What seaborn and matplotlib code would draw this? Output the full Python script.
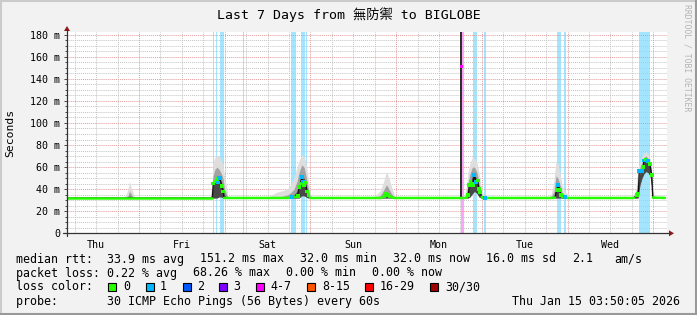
import math
import matplotlib
matplotlib.use("Agg")
import matplotlib.pyplot as plt
import seaborn as sns
from matplotlib.patches import Rectangle, Polygon
from matplotlib.lines import Line2D

# ---------------- data (x = hours since Thu Jan 8 03:50:05, y = milliseconds) ----------------
START_TIME_OF_DAY_H = 3 + 50 / 60 + 5 / 3600
SPAN_H = 168
day_labels = ["Thu", "Fri", "Sat", "Sun", "Mon", "Tue", "Wed"]
y_ticks = [0, 20, 40, 60, 80, 100, 120, 140, 160, 180]
y_tick_labels = ["0", "20 m", "40 m", "60 m", "80 m", "100 m", "120 m", "140 m", "160 m", "180 m"]

# median rtt (ms) and loss class at each key point
med_h = [0, 40.68, 40.96, 41.44, 41.92, 42.28, 42.84, 43.32, 43.68, 43.96,
         61.88, 62.92, 63.84, 64.6, 64.96, 65.38, 65.72, 66.0, 66.36, 66.64, 67.2, 67.62, 68.04,
         87.92, 88.4, 88.9, 89.32, 89.96, 90.44, 90.92, 91.28,
         111.44, 112.0, 112.36, 112.64, 112.98, 113.32, 113.68, 114.04, 114.52, 114.99, 115.36,
         115.64, 116.12, 116.48, 117.04,
         136.08, 136.64, 137.12, 137.56, 138.04, 138.32, 138.68, 139.44, 140.0,
         158.76, 159.52, 159.96, 160.24, 160.92, 161.28, 161.56, 162.12, 162.76, 163.24, 163.72,
         164.0, 167.44]
med_ms = [32, 32, 45, 47, 49, 46, 50, 43, 38, 32,
          32, 32.7, 33, 34, 42, 45, 51, 47, 44, 46, 38, 35, 32,
          32, 33, 34, 36, 34.5, 33.5, 33, 32,
          32, 33, 34.5, 43.6, 47, 45, 44, 52.7, 46.7, 48, 40,
          37.5, 33, 32, 32,
          32, 32.4, 39, 43.6, 39, 34.5, 32.7, 33, 32,
          32, 35, 36, 56.6, 56.6, 60, 66, 67, 65.7, 62.7, 52.7,
          32.4, 32]
med_loss = ["0", "0", "0", "0", "0", "1", "1", "0", "0", "0",
            "0", "1", "0", "0", "0", "0", "1", "1", "0", "0", "0", "0", "0",
            "0", "0", "0", "0", "0", "0", "0", "0",
            "0", "0", "0", "0", "0", "0", "0", "1", "1", "0", "0",
            "0", "0", "0", "1",
            "0", "0", "0", "1", "0", "0", "0", "1", "0",
            "0", "0", "0", "1", "1", "0", "1", "0", "1", "0", "0",
            "0", "0"]

# the Monday outage spike
spike_h = [109.95, 110.65]
spike_lo = [32, 32]
spike_hi = [183, 183]
spike_med_h = [110.45]
spike_med_ms = [151.2]
spike_med_loss = ["4-7"]

# smoke (ping spread) envelopes
smoke_h = [15.96, 16.52, 17.08, 17.5, 17.92, 18.48, 19.04,
           40.04, 40.6, 40.88, 41.44, 42.0, 42.56, 43.12, 43.68, 44.1, 44.72, 45.08,
           56.28, 57.4, 58.52, 59.64, 60.76, 61.88, 62.72, 63.56, 64.4, 64.96, 65.72, 66.36,
           66.92, 67.48, 68.04, 68.6,
           85.4, 86.52, 87.64, 88.48, 89.46, 90.16, 90.86, 91.56, 92.12,
           111.16, 111.72, 112.28, 112.84, 113.54, 114.1, 114.8, 115.36, 115.92, 116.48, 117.04,
           134.68, 135.52, 136.36, 136.92, 137.48, 138.04, 138.6, 139.44, 140.28, 140.84,
           157.64, 158.48, 159.32, 159.88, 160.44, 161.0, 161.56, 162.12, 162.68, 163.24,
           163.66, 164.08, 164.64]
smoke_lo = [32, 32, 32, 32, 32, 32, 32,
            32, 32, 32, 32, 32, 33, 33, 32, 32, 32, 32,
            32, 32, 32, 32, 32, 32, 32, 32, 32, 32, 34, 34,
            33, 32, 32, 32,
            32, 32, 32, 32, 32, 32, 32, 32, 32,
            32, 32, 32, 33, 36, 38, 36, 33, 32, 32, 32,
            32, 32, 32, 32, 32, 32, 32, 32, 32, 32,
            32, 32, 32, 32, 44, 50, 54, 56, 55, 52,
            44, 32, 32]
smoke_outer = [32, 35, 40, 47, 42, 37, 32,
               32, 45, 64, 69, 71, 70, 67, 62, 52, 42, 33,
               32, 35, 37, 38, 39, 41, 45, 50, 60, 66, 71, 70,
               64, 52, 38, 32,
               32, 35, 38, 45, 56, 50, 42, 36, 32,
               32, 40, 55, 64, 69, 68, 64, 55, 44, 36, 32,
               32, 35, 48, 66, 63, 55, 44, 38, 35, 32,
               32, 34, 40, 60, 64, 70, 73, 74, 72, 68,
               62, 40, 32]
smoke_mid = [32, 33, 34, 38, 36, 33, 32,
             32, 36, 52, 58, 60, 58, 55, 50, 40, 35, 32,
             32, 32, 33, 33, 34, 35, 37, 40, 47, 55, 62, 60,
             52, 42, 34, 32,
             32, 33, 34, 38, 44, 40, 36, 33, 32,
             32, 35, 45, 54, 60, 60, 55, 46, 37, 33, 32,
             32, 33, 38, 52, 50, 44, 37, 34, 33, 32,
             32, 33, 36, 50, 60, 64, 69, 70, 68, 64,
             56, 35, 32]
smoke_inner = [32, 32, 33, 34, 33, 32, 32,
               32, 33, 45, 50, 52, 51, 47, 42, 35, 32, 32,
               32, 32, 32, 32, 32, 33, 34, 35, 38, 45, 52, 50,
               44, 37, 32, 32,
               32, 32, 32, 34, 37, 35, 33, 32, 32,
               32, 33, 38, 46, 52, 53, 49, 40, 34, 32, 32,
               32, 32, 34, 42, 45, 39, 33, 32, 32, 32,
               32, 32, 34, 42, 57, 60, 66, 67, 65, 61,
               52, 33, 32]

# full-height loss bars
band_start = [40.88, 41.72, 42.84, 49.28, 62.72, 65.52, 66.92, 110.32, 113.68, 116.76, 137.2, 139.16, 160.16]
band_end = [41.3, 42.14, 43.96, 49.56, 64.12, 66.64, 67.2, 111.16, 114.8, 117.32, 138.32, 139.72, 163.24]
band_loss = ["1", "1", "1", "1", "1", "1", "1", "4-7", "1", "1", "1", "1", "1"]

loss_classes = ["0", "1", "2", "3", "4-7", "8-15", "16-29", "30/30"]
loss_colors = ["#26ff00", "#00b8ff", "#0059ff", "#7e00ff", "#ff00ff", "#ff5500", "#ff0000", "#a10000"]

stat_rows = [
    [("median rtt:  33.9 ms avg", 16), ("151.2 ms max", 200), ("32.0 ms min", 300),
     ("32.0 ms now", 393), ("16.0 ms sd", 486), ("2.1", 572), ("am/s", 614)],
    [("packet loss: 0.22 % avg", 16), ("68.26 % max", 193), ("0.00 % min", 286),
     ("0.00 % now", 372)],
    [("loss color:", 16)],
    [("probe:       30 ICMP Echo Pings (56 Bytes) every 60s", 16)],
]
row_y = [259, 273, 287, 301.5]
date_text = "Thu Jan 15 03:50:05 2026"
legend_box_x = [108, 146, 183, 219, 256, 307, 365, 430]
legend_label_x = [123, 160, 197, 233, 270, 322, 380, 445]
title = "Last 7 Days from 無防禦 to BIGLOBE"

# ---------------- style ----------------
W, H = 697, 315
sns.set_theme(style="white")
MONO = ["DejaVu Sans Mono", "Noto Sans CJK TC"]
plt.rcParams["font.family"] = MONO
plt.rcParams["text.color"] = "black"

BG = "#f2f2f2"
fig = plt.figure(figsize=(W / 100, H / 100), dpi=100, facecolor=BG)

X0, X1 = 67, 667
Y0 = 233.3
PX_PER_MS = 198.6 / 180
YMAX = 182
ax = fig.add_axes([X0 / W, (H - Y0) / H, (X1 - X0) / W, YMAX * PX_PER_MS / H], facecolor="white")
ax.set_xlim(0, SPAN_H)
ax.set_ylim(0, YMAX)
for s in ax.spines.values():
    s.set_visible(False)

col = dict(zip(loss_classes, loss_colors))

# loss bars
for s, e, l in zip(band_start, band_end, band_loss):
    ax.axvspan(s, e, color=col[l], alpha=0.36, lw=0, zorder=1)

# grid
first_mid = 24 - START_TIME_OF_DAY_H
grid6 = [first_mid - 18 + 6 * k for k in range(30) if 0 < first_mid - 18 + 6 * k < SPAN_H]
midnights = [g for g in grid6 if abs(((g - first_mid) / 24) - round((g - first_mid) / 24)) < 1e-6]
minor6 = [g for g in grid6 if g not in midnights]
dots = (0, (1, 1))
ax.vlines(minor6, 0, YMAX, colors="#c4c4c4", lw=0.7, linestyles=dots, zorder=1.5)
ax.vlines(midnights, 0, YMAX, colors="#e39a9a", lw=0.7, linestyles=dots, zorder=1.6)
y_minor = [v for v in range(5, YMAX, 5) if v % 20]
ax.hlines(y_minor, 0, SPAN_H, colors="#c4c4c4", lw=0.7, linestyles=dots, zorder=1.5)
ax.hlines([v for v in y_ticks if v > 0], 0, SPAN_H, colors="#e39a9a", lw=0.7, linestyles=dots, zorder=1.6)

# smoke
ax.fill_between(smoke_h, smoke_lo, smoke_outer, color="#dedede", lw=0, zorder=2)
ax.fill_between(smoke_h, smoke_lo, smoke_mid, color="#a2a2a2", lw=0, zorder=2.1)
ax.fill_between(smoke_h, smoke_lo, smoke_inner, color="#484848", lw=0, zorder=2.2)
ax.fill_between(spike_h, spike_lo, spike_hi, color="#2e2e2e", lw=0, zorder=2.3)

# median: dark connecting line, green baseline runs, coloured loss points
sns.lineplot(x=med_h, y=med_ms, color="#111111", lw=0.9, sort=False, estimator=None, ax=ax, zorder=3)
run = []
for h, v in zip(med_h + [None], med_ms + [None]):
    if v is not None and v <= 33.05:
        run.append((h, v))
    else:
        if len(run) > 1:
            sns.lineplot(x=[p[0] for p in run], y=[p[1] for p in run], color=col["0"], lw=1.8,
                         sort=False, estimator=None, ax=ax, zorder=3.5)
        run = []
keep = [i for i, (v, l) in enumerate(zip(med_ms, med_loss)) if v > 33.05 or l != "0"]
pts_h = [med_h[i] for i in keep] + spike_med_h
pts_v = [med_ms[i] for i in keep] + spike_med_ms
pts_l = [med_loss[i] for i in keep] + spike_med_loss
sns.scatterplot(x=pts_h, y=pts_v, hue=pts_l, palette=col, marker="s", s=7, linewidth=0,
                legend=False, ax=ax, zorder=4)

# ticks
noons = [first_mid - 12 + 24 * k for k in range(len(day_labels))]
ax.set_xticks(noons, labels=day_labels)
ax.set_xticks(grid6, minor=True)
ax.set_yticks(y_ticks, labels=y_tick_labels)
ax.set_yticks(y_minor, minor=True)
ax.tick_params(axis="x", which="major", length=0, pad=4.5, labelsize=7.2, colors="black")
ax.tick_params(axis="x", which="minor", length=2, width=0.7, color="#444444", direction="out")
ax.tick_params(axis="y", which="major", length=2.4, width=0.7, color="#444444", pad=2.6, labelsize=7.2,
               labelcolor="black", left=True)
ax.tick_params(axis="y", which="minor", length=1.2, width=0.7, color="#444444", left=True)
ax.set_xlabel("")
ax.set_ylabel("")


def fx(px):
    return px / W


def fy(py):
    return 1 - py / H


# axes lines and arrows
AX_C = "#333333"
ARROW_C = "#8b1a1a"
fig.add_artist(Line2D([fx(63), fx(669)], [fy(Y0), fy(Y0)], color=AX_C, lw=0.9))
fig.add_artist(Line2D([fx(X0), fx(X0)], [fy(236), fy(30)], color=AX_C, lw=0.9))
fig.add_artist(Polygon([[fx(669), fy(Y0 - 3)], [fx(674), fy(Y0)], [fx(669), fy(Y0 + 3)]],
                       closed=True, transform=fig.transFigure, color=ARROW_C, lw=0))
fig.add_artist(Polygon([[fx(X0 - 3), fy(31)], [fx(X0), fy(26)], [fx(X0 + 3), fy(31)]],
                       closed=True, transform=fig.transFigure, color=ARROW_C, lw=0))

# title, axis label, credit
fig.text(fx(348.5), fy(15), title, ha="center", va="center", fontsize=9.5, family=MONO)
fig.text(fx(10), fy(133), "Seconds", rotation=90, ha="center", va="center", fontsize=8.2, family=MONO)
fig.text(fx(686.5), fy(4), "RRDTOOL / TOBI OETIKER", rotation=270, ha="center", va="top",
         fontsize=5.9, color="#b4b4b4", family=MONO)

# statistics legend
for row, y in zip(stat_rows, row_y):
    for txt, x in row:
        fig.text(fx(x), fy(y), txt, ha="left", va="center", fontsize=8.4, family=MONO)
fig.text(fx(680), fy(row_y[3]), date_text, ha="right", va="center", fontsize=8.4, family=MONO)
for bx, lx, lab, c in zip(legend_box_x, legend_label_x, loss_classes, loss_colors):
    fig.add_artist(Rectangle((fx(bx), fy(row_y[2] + 4)), 8 / W, 8 / H, transform=fig.transFigure,
                             facecolor=c, edgecolor="black", lw=0.8))
    fig.text(fx(lx), fy(row_y[2]), lab, ha="left", va="center", fontsize=8.4, family=MONO)

# outer frame
fig.add_artist(Line2D([0, 1], [1 - 1 / H, 1 - 1 / H], color="#cbcbcb", lw=1.5))
fig.add_artist(Line2D([1 / W, 1 / W], [0, 1], color="#cbcbcb", lw=1.5))
fig.add_artist(Line2D([0, 1], [1 / H, 1 / H], color="#999999", lw=1.5))
fig.add_artist(Line2D([1 - 1 / W, 1 - 1 / W], [0, 1], color="#999999", lw=1.5))

fig.savefig("out.png", dpi=100, facecolor=BG)
